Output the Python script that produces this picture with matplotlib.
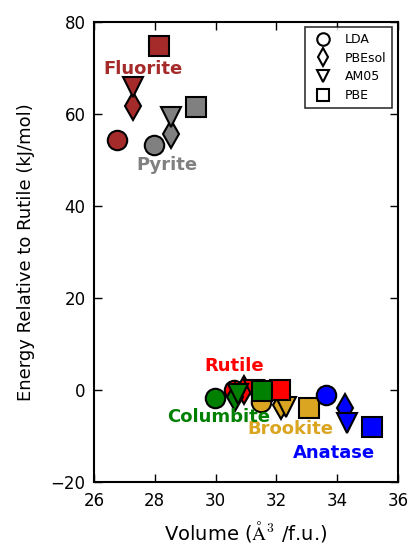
import matplotlib
matplotlib.use("Agg")
import matplotlib.pyplot as plt
from matplotlib.lines import Line2D

plt.rcParams['font.family'] = ['DejaVu Sans']
plt.rcParams['mathtext.fontset'] = 'cm'

# functionals and their marker shapes
functionals = ["LDA", "PBEsol", "AM05", "PBE"]
markers = ["o", "d", "v", "s"]

# TiO2 phases: volume (A^3/f.u.) and energy relative to rutile (kJ/mol)
phases = ["Fluorite", "Pyrite", "Brookite", "Rutile", "Columbite", "Anatase"]
colors = ["#A52A2A", "#808080", "#DAA520", "#FF0000", "#008000", "#0000FF"]

fluorite_vol = [26.75, 27.3, 27.3, 28.15]
fluorite_e = [54.2, 61.7, 65.9, 74.8]
pyrite_vol = [27.97, 28.55, 28.55, 29.36]
pyrite_e = [53.2, 55.6, 59.4, 61.5]
brookite_vol = [31.5, 32.15, 32.3, 33.08]
brookite_e = [-2.6, -3.3, -3.7, -4.0]
rutile_vol = [30.6, 30.95, 31.25, 32.12]
rutile_e = [0.0, 0.0, 0.0, 0.0]
columbite_vol = [29.98, 30.65, 30.75, 31.52]
columbite_e = [-1.8, -1.5, -1.0, -0.3]
anatase_vol = [33.62, 34.26, 34.33, 35.13]
anatase_e = [-1.1, -4.0, -7.2, -8.0]

volumes = [fluorite_vol, pyrite_vol, brookite_vol, rutile_vol, columbite_vol, anatase_vol]
energies = [fluorite_e, pyrite_e, brookite_e, rutile_e, columbite_e, anatase_e]

# phase name labels and where they sit
label_x = [27.6, 28.4, 32.45, 30.6, 30.1, 33.9]
label_y = [69.7, 48.8, -8.6, 5.2, -6.0, -13.8]

fig = plt.figure(figsize=(4.1, 5.45), dpi=100)
ax = fig.add_axes([0.229, 0.116, 0.742, 0.844])

for vol, en, col in zip(volumes, energies, colors):
    for v, e, m in zip(vol, en, markers):
        ax.plot(v, e, marker=m, color=col, markersize=14, markeredgecolor="black",
                markeredgewidth=1.5, linestyle="none")

for name, x, y, col in zip(phases, label_x, label_y, colors):
    ax.text(x, y, name, color=col, fontsize=13, fontweight="bold",
            ha="center", va="center")

ax.set_xlim(26, 36)
ax.set_ylim(-20, 80)
ax.set_xticks([26, 28, 30, 32, 34, 36])
ax.set_yticks([-20, 0, 20, 40, 60, 80])
ax.tick_params(direction="in", length=6, width=1, labelsize=12, top=True, right=True)
ax.tick_params(axis="x", pad=7)
ax.tick_params(axis="y", pad=6)
for sp in ax.spines.values():
    sp.set_linewidth(1.5)

ax.set_xlabel(r"Volume ($\mathrm{\AA}^3$ /f.u.)", fontsize=14, labelpad=7)
ax.set_ylabel("Energy Relative to Rutile (kJ/mol)", fontsize=13, labelpad=11)

# legend showing only the marker shapes
handles = [Line2D([], [], marker=m, linestyle="none", markerfacecolor="white",
                  markeredgecolor="black", markeredgewidth=1.5, markersize=9)
           for m in markers]
leg = ax.legend(handles, functionals, loc="upper right", fontsize=9,
                numpoints=1, fancybox=False, handletextpad=0.75, handlelength=2.0,
                labelspacing=0.45, borderpad=0.45, borderaxespad=0.45)
leg.get_frame().set_edgecolor("black")
leg.get_frame().set_linewidth(1.2)

fig.savefig("out.png", dpi=100)
